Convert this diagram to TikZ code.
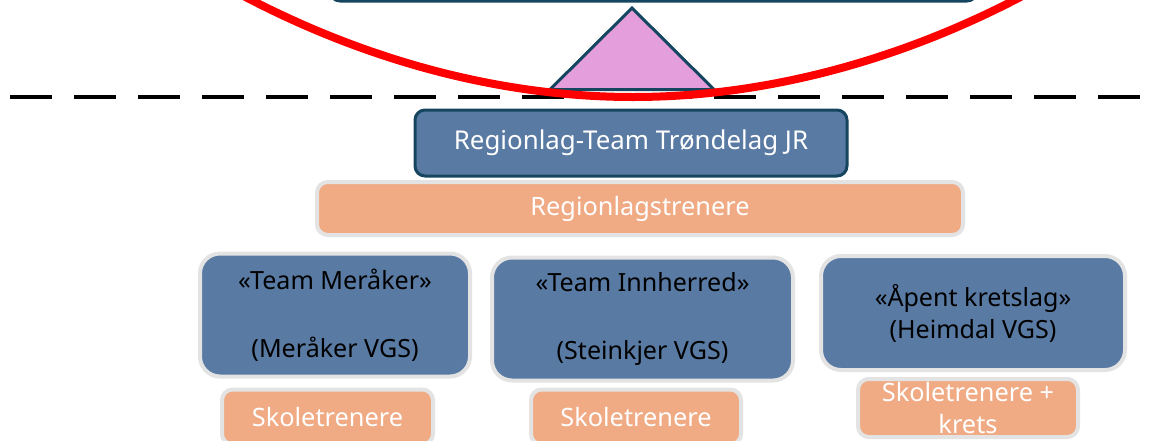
\documentclass[tikz,border=0pt]{standalone}
\usepackage{fontspec}
\setmainfont{Noto Sans}
\definecolor{boxblue}{HTML}{597AA3}
\definecolor{darkteal}{HTML}{16465F}
\definecolor{salmon}{HTML}{F0AA84}
\definecolor{lgray}{HTML}{E3E3E3}
\definecolor{pinkfill}{HTML}{E39EDB}
\begin{document}
\begin{tikzpicture}[x=0.75pt,y=-0.75pt,
  mainbox/.style={draw=darkteal, fill=boxblue, line width=2.25pt, rounded corners=7.5pt, inner sep=0pt},
  teambox/.style={draw=lgray, fill=boxblue, line width=3pt, rounded corners=15pt, inner sep=0pt, align=center, text=black},
  coachbox/.style={draw=lgray, fill=salmon, line width=3pt, rounded corners=8pt, inner sep=0pt, align=center, text=white},
]
\useasboundingbox (0,0) rectangle (1159,440);
\clip (0,0) rectangle (1159,440);
% top box (cut off)
\node[mainbox, minimum width=647*0.75pt, minimum height=62*0.75pt] (top) at (653.5,-30) {};
% dashed line
\coordinate (dl) at (10,97);
\coordinate (dr) at (1170,97);
\draw[black, line width=2.4pt, dash pattern=on 31.5pt off 16.5pt] (dl) -- (dr);
% triangle
\coordinate (apex) at (632,8);
\coordinate (bl) at (550,89.5);
\coordinate (br) at (714,89.5);
\draw[darkteal, fill=pinkfill, line width=2.25pt, line join=miter] (apex) -- (br) -- (bl) -- cycle;
% red ellipse
\coordinate (el) at (225,-14);
\coordinate (eb) at (633,97);
\coordinate (er) at (1041,-14);
\draw[red, line width=6pt] (el) parabola bend (eb) (er);
% boxes
\node[mainbox, minimum width=432*0.75pt, minimum height=66*0.75pt, text=white, font=\fontsize{19.4}{24}\selectfont] (reg) at (631,143) {Regionlag-Team Trøndelag JR};
\node[coachbox, minimum width=646*0.75pt, minimum height=53*0.75pt, font=\fontsize{19}{22}\selectfont] (regtr) at (640,208.5) {Regionlagstrenere};
\node[teambox, minimum width=270*0.75pt, minimum height=123*0.75pt, font=\fontsize{18.8}{25.5}\selectfont] (t1) at (335,315) {«Team Meråker»\\[25.5pt](Meråker VGS)};
\node[teambox, minimum width=301*0.75pt, minimum height=123*0.75pt, font=\fontsize{18.8}{25.5}\selectfont] (t2) at (642.5,319) {«Team Innherred»\\[25.5pt](Steinkjer VGS)};
\node[teambox, minimum width=304*0.75pt, minimum height=114*0.75pt, font=\fontsize{18.8}{24}\selectfont] (t3) at (973,313) {«Åpent kretslag»\\(Heimdal VGS)};
\node[coachbox, minimum width=211*0.75pt, minimum height=55*0.75pt, font=\fontsize{19}{24}\selectfont] (s1) at (327.5,417) {Skoletrenere};
\node[coachbox, minimum width=210*0.75pt, minimum height=55*0.75pt, font=\fontsize{19}{24}\selectfont] (s2) at (636,417) {Skoletrenere};
\node[coachbox, minimum width=220*0.75pt, minimum height=58*0.75pt, font=\fontsize{19}{24.5}\selectfont] (s3) at (968,408) {Skoletrenere +\\krets};
\end{tikzpicture}
\end{document}
